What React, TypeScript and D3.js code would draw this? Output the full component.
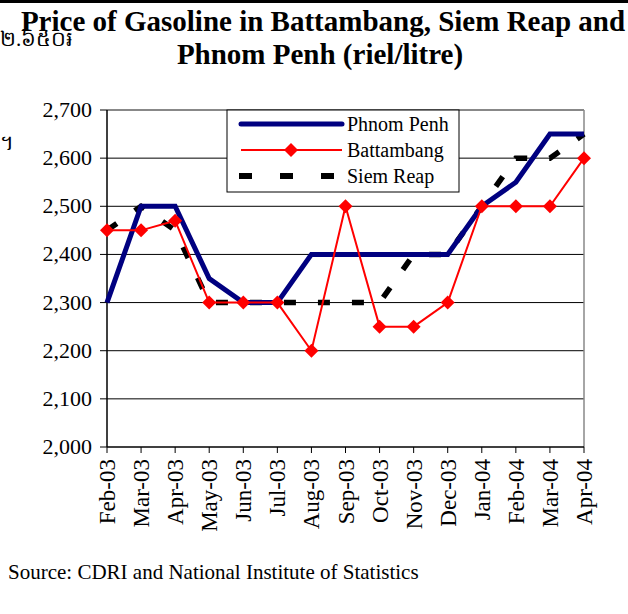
import React from "react";
import * as d3 from "d3";

const months = ["Feb-03","Mar-03","Apr-03","May-03","Jun-03","Jul-03","Aug-03","Sep-03","Oct-03","Nov-03","Dec-03","Jan-04","Feb-04","Mar-04","Apr-04"];
const phnomPenh = [2300,2500,2500,2350,2300,2300,2400,2400,2400,2400,2400,2500,2550,2650,2650];
const battambang = [2450,2450,2470,2300,2300,2300,2200,2500,2250,2250,2300,2500,2500,2500,2600];
const siemReap = [2450,2500,2450,2300,2300,2300,2300,2300,2300,2400,2400,2500,2600,2600,2650];
const yTicks = [2000,2100,2200,2300,2400,2500,2600,2700];

export default function App() {
  const W = 628, H = 614;
  const x0 = 107, x1 = 584, yTop = 110, yBot = 447;
  const x = d3.scalePoint<string>().domain(months).range([x0, x1]);
  const y = d3.scaleLinear().domain([2000, 2700]).range([yBot, yTop]);
  const fmt = d3.format(",");
  const line = d3.line<number>().x((_, i) => x(months[i])!).y((d) => y(d));
  const ff = { fontFamily: "Liberation Serif, Tinos, Times New Roman, DejaVu Serif, serif" };
  const diamond = (cx: number, cy: number, r: number) =>
    `M${cx},${cy - r}L${cx + r},${cy}L${cx},${cy + r}L${cx - r},${cy}Z`;

  return (
    <svg width={W} height={H} style={{ position: "absolute", left: 0, top: 0, background: "#fff" }}>
      <rect x={0} y={0} width={W} height={H} fill="#fff" />
      <line x1={0} x2={W} y1={1.5} y2={1.5} stroke="#000" strokeWidth={3} />
      <text x={0} y={46} fontSize={21} style={ff}>២.៦៥០៛</text>
      <text x={323} y={31} textAnchor="middle" fontSize={29} fontWeight="bold" style={ff}>Price of Gasoline in Battambang, Siem Reap and</text>
      <text x={320} y={64} textAnchor="middle" fontSize={29} fontWeight="bold" style={ff}>Phnom Penh (riel/litre)</text>
      <text x={0} y={150} fontSize={21} style={ff}>។</text>

      {yTicks.map((t) => (
        <g key={t}>
          {t !== 2000 && t !== 2700 && (
            <line x1={x0} x2={x1} y1={y(t)} y2={y(t)} stroke="#000" strokeWidth={1} />
          )}
          <line x1={x0 - 7} x2={x0} y1={y(t)} y2={y(t)} stroke="#000" strokeWidth={1} />
          <text x={92} y={y(t) + 7} textAnchor="end" fontSize={22} style={ff}>{fmt(t)}</text>
        </g>
      ))}
      <line x1={x0} x2={x1} y1={yTop} y2={yTop} stroke="#888" strokeWidth={2} />
      <line x1={x1} x2={x1} y1={yTop} y2={yBot} stroke="#888" strokeWidth={1.5} />
      <line x1={x0} x2={x0} y1={yTop} y2={yBot} stroke="#000" strokeWidth={1.5} />
      <line x1={x0} x2={x1} y1={yBot} y2={yBot} stroke="#000" strokeWidth={1.5} />

      {months.map((m) => (
        <g key={m}>
          <line x1={x(m)} x2={x(m)} y1={yBot} y2={yBot + 6} stroke="#000" strokeWidth={1} />
          <text transform={`translate(${x(m)! + 8},${yBot + 12}) rotate(-90)`} textAnchor="end" fontSize={23} style={ff}>{m}</text>
        </g>
      ))}

      <path d={line(siemReap)!} fill="none" stroke="#000" strokeWidth={5.5} strokeDasharray="12,22" />
      <path d={line(phnomPenh)!} fill="none" stroke="#000080" strokeWidth={5} strokeLinejoin="miter" />
      <path d={line(battambang)!} fill="none" stroke="#ff0000" strokeWidth={2} />
      {battambang.map((v, i) => (
        <path key={i} d={diamond(x(months[i])!, y(v), 7)} fill="#ff0000" />
      ))}

      <g>
        <rect x={227} y={110} width={232} height={82} fill="#fff" stroke="#000" strokeWidth={1} />
        <line x1={241} x2={342} y1={124} y2={124} stroke="#000080" strokeWidth={5} strokeLinecap="round" />
        <text x={347} y={131} fontSize={20} style={ff}>Phnom Penh</text>
        <line x1={241} x2={342} y1={150} y2={150} stroke="#ff0000" strokeWidth={2} />
        <path d={diamond(291, 150, 7)} fill="#ff0000" />
        <text x={347} y={157} fontSize={20} style={ff}>Battambang</text>
        <line x1={239} x2={345} y1={176} y2={176} stroke="#000" strokeWidth={6} strokeDasharray="13,28" />
        <text x={347} y={183} fontSize={20} style={ff}>Siem Reap</text>
      </g>

      <text x={8} y={579} fontSize={21} style={ff}>Source: CDRI and National Institute of Statistics</text>
    </svg>
  );
}
